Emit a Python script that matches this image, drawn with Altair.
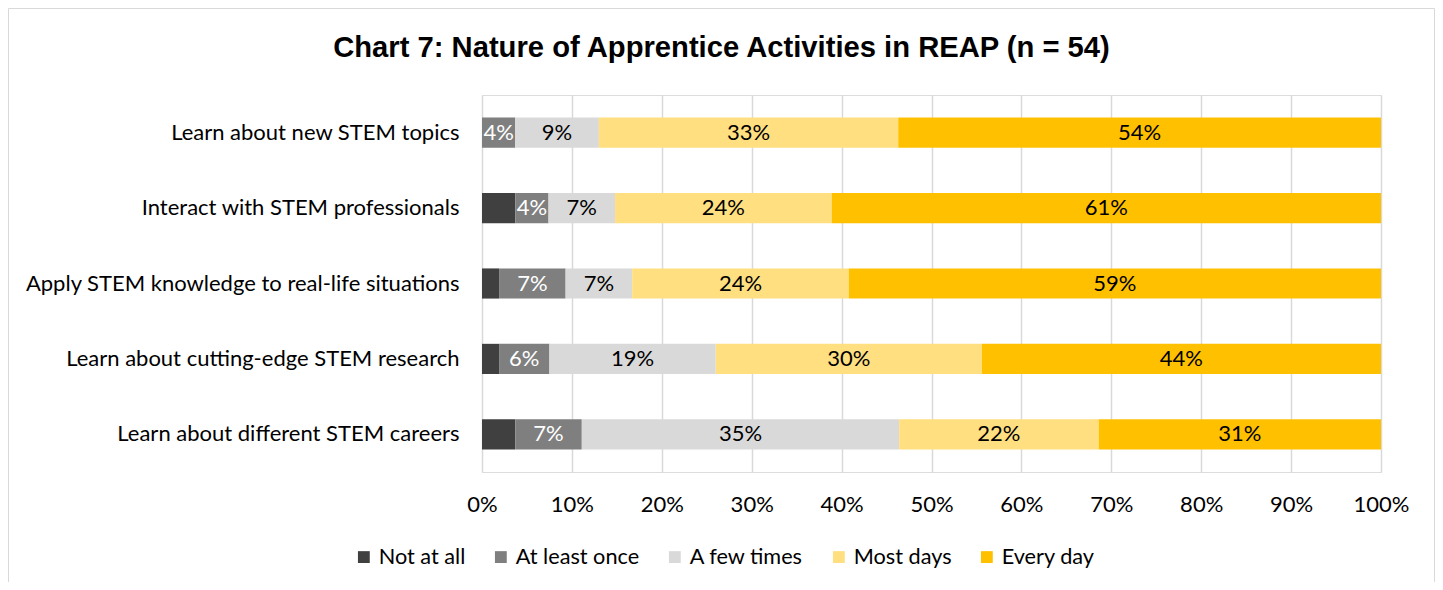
import altair as alt
import pandas as pd

# ---------------- data ----------------
activities = [
    "Learn about new STEM topics",
    "Interact with STEM professionals",
    "Apply STEM knowledge to real-life situations",
    "Learn about cutting-edge STEM research",
    "Learn about different STEM careers",
]
responses = ["Not at all", "At least once", "A few times", "Most days", "Every day"]

not_at_all = [0.0, 3.7, 1.9, 1.9, 3.7]
at_least_once = [3.7, 3.7, 7.4, 5.6, 7.4]
a_few_times = [9.3, 7.4, 7.4, 18.5, 35.3]
most_days = [33.3, 24.1, 24.1, 29.6, 22.2]
every_day = [53.7, 61.1, 59.2, 44.4, 31.4]

series = [not_at_all, at_least_once, a_few_times, most_days, every_day]
show_label = [False, True, True, True, True]

colors = ["#404040", "#7F7F7F", "#D9D9D9", "#FFDF80", "#FFC000"]
label_colors = ["#000000", "#FFFFFF", "#000000", "#000000", "#000000"]

rows = []
for j, resp in enumerate(responses):
    for i, act in enumerate(activities):
        v = series[j][i]
        rows.append({
            "activity": act,
            "response": resp,
            "ord": j,
            "value": v,
            "label": f"{int(v + 0.5)}%",
            "show": show_label[j],
            "lcolor": label_colors[j],
        })
df = pd.DataFrame(rows)

# ---------------- layout constants ----------------
W, H = 899, 377
PAD_L, PAD_T, PAD_R, PAD_B = 474, 87, 54, 110
FONT = "Lato"
GRID = "#D9D9D9"

y_enc = alt.Y(
    "activity:N",
    sort=activities,
    title=None,
    scale=alt.Scale(paddingInner=0.6, paddingOuter=0.3),
    axis=alt.Axis(
        domain=True, domainColor=GRID, domainWidth=1, ticks=False, grid=False,
        labelFont=FONT, labelFontSize=22, labelColor="#000000", labelPadding=23,
        labelLimit=600,
    ),
)

base = alt.Chart(df)

bars = base.mark_bar().encode(
    y=y_enc,
    x=alt.X(
        "value:Q", stack="zero", title=None,
        scale=alt.Scale(domain=[0, 100], nice=False, clamp=True),
        axis=alt.Axis(
            values=list(range(0, 101, 10)), labelExpr="datum.value + '%'",
            domain=False, ticks=False, grid=True, gridColor=GRID, gridWidth=1.5,
            labelFont=FONT, labelFontSize=22, labelColor="#000000", labelPadding=22,
            labelFlush=False, labelOverlap=False,
        ),
    ),
    color=alt.Color(
        "response:N",
        scale=alt.Scale(domain=responses, range=colors),
        legend=alt.Legend(
            title=None, orient="none", legendX=-129, legendY=451,
            direction="horizontal", columns=5, symbolType="square",
            symbolSize=140, symbolStrokeWidth=0, labelFont=FONT,
            labelFontSize=21.7, labelColor="#000000", labelOffset=4,
            columnPadding=24, labelLimit=300,
        ),
    ),
    order=alt.Order("ord:Q"),
)

texts = (
    base.transform_stack(
        stack="value", groupby=["activity"], as_=["v0", "v1"],
        sort=[alt.SortField("ord", order="ascending")],
    )
    .transform_filter("datum.show")
    .transform_calculate(mid="(datum.v0 + datum.v1) / 2")
    .mark_text(font=FONT, fontSize=22, baseline="middle", align="center")
    .encode(
        y=alt.Y("activity:N", sort=activities, title=None),
        x=alt.X("mid:Q", title=None),
        text="label:N",
        color=alt.Color("lcolor:N", scale=None),
    )
)

# outer frame of the chart (decoration)
frame_df = pd.DataFrame({"k": [0]})
left_edge = alt.Chart(frame_df).mark_rule(color=GRID, strokeWidth=1).encode(
    x=alt.value(0.5 - PAD_L), y=alt.value(0.5 - PAD_T), y2=alt.value(H + PAD_B))
right_edge = alt.Chart(frame_df).mark_rule(color=GRID, strokeWidth=1).encode(
    x=alt.value(W + PAD_R - 0.5), y=alt.value(0.5 - PAD_T), y2=alt.value(H + PAD_B))
top_edge = alt.Chart(frame_df).mark_rule(color=GRID, strokeWidth=1).encode(
    x=alt.value(0.5 - PAD_L), x2=alt.value(W + PAD_R - 0.5), y=alt.value(0.5 - PAD_T))

chart = (
    alt.layer(bars, texts, left_edge, right_edge, top_edge)
    .properties(
        width=W, height=H,
        autosize=alt.AutoSizeParams(type="none"),
        padding={"left": PAD_L, "top": PAD_T, "right": PAD_R, "bottom": PAD_B},
        title=alt.TitleParams(
            "Chart 7: Nature of Apprentice Activities in REAP (n = 54)",
            font="Liberation Sans", fontSize=29.2, fontWeight="bold",
            color="#000000", anchor="middle", frame="group", dx=-210,
            offset=0, dy=55,
        ),
    )
    .configure_view(stroke="transparent")
    .configure(background="#FFFFFF")
)

chart.save("out.html", embed_options={"renderer": "svg", "actions": False})
